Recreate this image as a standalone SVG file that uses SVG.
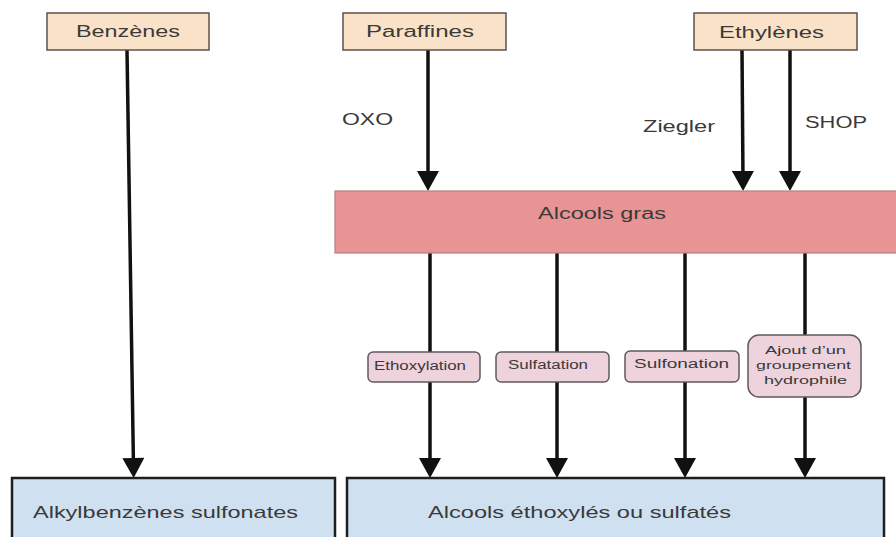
<svg xmlns="http://www.w3.org/2000/svg" width="896" height="537" viewBox="0 0 896 537">
  <style>
    text { font-family: "Liberation Sans", Arial, sans-serif; fill: #3a3a3a; }
    .lbl { font-size: 16px; }
    .big { font-size: 17px; }
    .sm { font-size: 12px; }
    .xs { font-size: 11px; }
    .src { fill: #fae2c9; stroke: #5c5249; stroke-width: 1.5; }
    .main { fill: #e99494; stroke: #b98080; stroke-width: 1.2; }
    .proc { fill: #eed2dc; stroke: #5f5a5c; stroke-width: 1.5; }
    .out { fill: #cfe0f1; stroke: #1e1e1e; stroke-width: 2.5; }
    .con { stroke: #111; stroke-width: 3.5; fill: none; }
  </style>
  <defs>
    <marker id="arr" markerUnits="userSpaceOnUse" markerWidth="22" markerHeight="22" viewBox="0 0 20 22" refX="10" refY="11" orient="auto">
      <path d="M0,0 L20,11 L0,22 Z" fill="#111"/>
    </marker>
  </defs>
  <rect width="896" height="537" fill="#ffffff"/>

  <g id="connectors">
    <line class="con" x1="127" y1="50" x2="133.5" y2="468" marker-end="url(#arr)"/>
    <line class="con" x1="428" y1="50" x2="428" y2="181" marker-end="url(#arr)"/>
    <line class="con" x1="742" y1="50" x2="743" y2="181" marker-end="url(#arr)"/>
    <line class="con" x1="790" y1="50" x2="790" y2="181" marker-end="url(#arr)"/>
    <line class="con" x1="430" y1="253" x2="430" y2="352"/>
    <line class="con" x1="430" y1="382" x2="430" y2="468" marker-end="url(#arr)"/>
    <line class="con" x1="557" y1="253" x2="557" y2="352"/>
    <line class="con" x1="557" y1="382" x2="557" y2="468" marker-end="url(#arr)"/>
    <line class="con" x1="685" y1="253" x2="685" y2="352"/>
    <line class="con" x1="685" y1="382" x2="685" y2="468" marker-end="url(#arr)"/>
    <line class="con" x1="805" y1="253" x2="805" y2="335"/>
    <line class="con" x1="805" y1="397" x2="805" y2="468" marker-end="url(#arr)"/>
  </g>

  <g id="labels">
    <text class="lbl" x="342" y="125" textLength="51" lengthAdjust="spacingAndGlyphs">OXO</text>
    <text class="lbl" x="643" y="132" textLength="72" lengthAdjust="spacingAndGlyphs">Ziegler</text>
    <text class="lbl" x="805" y="128" textLength="62" lengthAdjust="spacingAndGlyphs">SHOP</text>
  </g>

  <g id="benzenes">
    <rect class="src" x="47" y="13" width="162" height="37"/>
    <text class="lbl" x="76" y="37" textLength="104" lengthAdjust="spacingAndGlyphs">Benzènes</text>
  </g>
  <g id="paraffines">
    <rect class="src" x="343" y="13" width="163" height="37"/>
    <text class="lbl" x="366" y="37" textLength="108" lengthAdjust="spacingAndGlyphs">Paraffines</text>
  </g>
  <g id="ethylenes">
    <rect class="src" x="694" y="13" width="163" height="37"/>
    <text class="lbl" x="719" y="38" textLength="105" lengthAdjust="spacingAndGlyphs">Ethylènes</text>
  </g>

  <g id="alcools-gras">
    <rect class="main" x="335" y="191" width="570" height="62"/>
    <text class="lbl" x="538" y="219" textLength="128" lengthAdjust="spacingAndGlyphs">Alcools gras</text>
  </g>

  <g id="ethoxylation">
    <rect class="proc" x="368" y="352" width="112" height="30" rx="5"/>
    <text class="sm" x="374" y="370" textLength="92" lengthAdjust="spacingAndGlyphs">Ethoxylation</text>
  </g>
  <g id="sulfatation">
    <rect class="proc" x="496" y="352" width="113" height="30" rx="5"/>
    <text class="sm" x="508" y="369" textLength="80" lengthAdjust="spacingAndGlyphs">Sulfatation</text>
  </g>
  <g id="sulfonation">
    <rect class="proc" x="625" y="351" width="114" height="31" rx="5"/>
    <text class="sm" x="634" y="368" textLength="95" lengthAdjust="spacingAndGlyphs">Sulfonation</text>
  </g>
  <g id="ajout">
    <rect class="proc" x="748" y="335" width="113" height="62" rx="11"/>
    <text class="xs" x="765" y="354" textLength="81" lengthAdjust="spacingAndGlyphs">Ajout d’un</text>
    <text class="xs" x="756" y="369" textLength="95" lengthAdjust="spacingAndGlyphs">groupement</text>
    <text class="xs" x="764" y="384" textLength="83" lengthAdjust="spacingAndGlyphs">hydrophile</text>
  </g>

  <g id="alkylbenzenes-sulfonates">
    <rect class="out" x="12" y="478" width="323" height="70"/>
    <text class="big" x="33" y="518" textLength="265" lengthAdjust="spacingAndGlyphs">Alkylbenzènes sulfonates</text>
  </g>
  <g id="alcools-ethoxyles">
    <rect class="out" x="347" y="478" width="537" height="70"/>
    <text class="big" x="428" y="518" textLength="303" lengthAdjust="spacingAndGlyphs">Alcools éthoxylés ou sulfatés</text>
  </g>
</svg>
